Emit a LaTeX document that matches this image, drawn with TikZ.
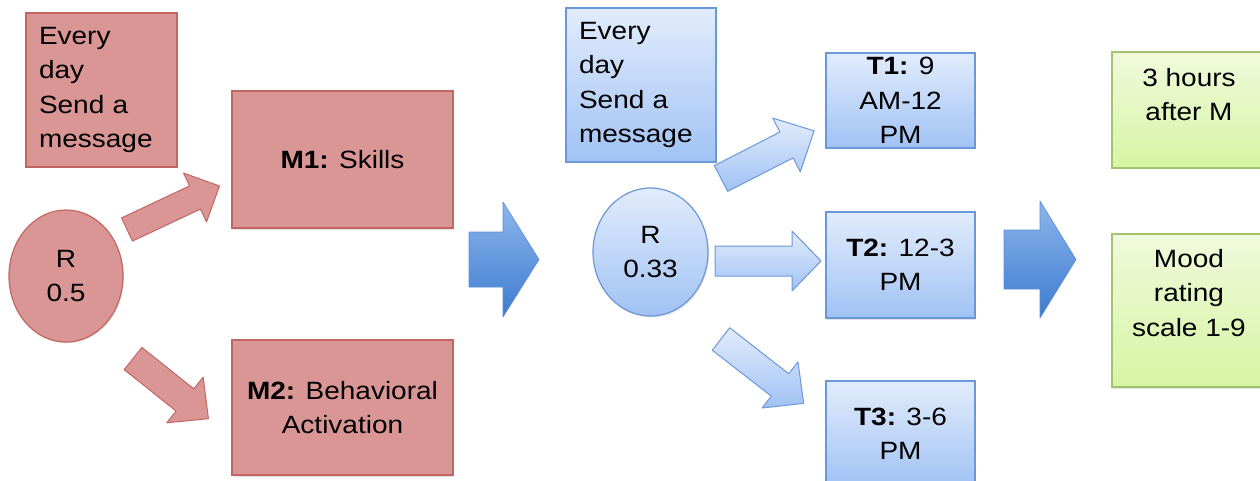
\documentclass[tikz,border=0pt]{standalone}
\usepackage{fontspec}
\setmainfont{Liberation Sans}[FakeStretch=1.12]
\usetikzlibrary{shapes.geometric,shadows}
\definecolor{redfill}{HTML}{D99694}
\definecolor{redline}{HTML}{C26664}
\definecolor{bluetop}{HTML}{E2ECFC}
\definecolor{bluebot}{HTML}{A0C2F4}
\definecolor{blueline}{HTML}{6A98D8}
\definecolor{bigtop}{HTML}{8DB5EC}
\definecolor{bigbot}{HTML}{3D7BD0}
\definecolor{bigline}{HTML}{5A8ED6}
\definecolor{greentop}{HTML}{F1F9DC}
\definecolor{greenbot}{HTML}{D6F5A3}
\definecolor{greenline}{HTML}{A3C46C}
\newcommand\blockarr[7]{%
  \begin{scope}[shift={(#2)},rotate=#3]
    \path[#1] (0,-#5) -- ({#4-#7},-#5) -- ({#4-#7},-#6) -- (#4,0)
      -- ({#4-#7},#6) -- ({#4-#7},#5) -- (0,#5) -- cycle;
  \end{scope}}
\begin{document}
\begin{tikzpicture}[x=1pt,y=-1pt,
  font=\fontsize{25}{34.5}\selectfont,
  shad/.style={drop shadow={opacity=0.22,shadow xshift=1pt,shadow yshift=-1.5pt}},
  redbox/.style={draw=redline,fill=redfill,line width=1.2pt,inner sep=0pt,shad},
  bluebox/.style={draw=blueline,top color=bluetop,bottom color=bluebot,line width=1.2pt,inner sep=0pt,shad},
  greenbox/.style={draw=greenline,top color=greentop,bottom color=greenbot,line width=1.2pt,inner sep=0pt,shad},
  redarr/.style={draw=redline,fill=redfill,line width=1pt,line join=round},
  bluearr/.style={draw=blueline,top color=bluetop,bottom color=bluebot,line width=1pt,line join=round},
  bigarr/.style={draw=bigline,top color=bigtop,bottom color=bigbot,line width=0.6pt,line join=round},
  txt/.style={inner sep=0pt,align=center}]
\useasboundingbox (0,0) rectangle (1260,481);

% left (red) group
\node[redbox,minimum width=151pt,minimum height=154pt,text width=125pt,inner xsep=13pt,align=left] (rsend) at (101.5,90) {Every\\day\\Send a\\message};
\node[redbox,minimum width=221pt,minimum height=137pt,align=center] (m1) at (342.5,159.5) {\textbf{M1:} Skills};
\node[redbox,minimum width=221pt,minimum height=135pt,align=center] (m2) at (342.5,407.5) {\textbf{M2:} Behavioral\\Activation};
\node[redbox,ellipse,minimum width=114pt,minimum height=132pt,align=center] (r1) at (66,276) {R\\0.5};

% middle (blue) group
\node[bluebox,minimum width=150pt,minimum height=154pt,text width=124pt,inner xsep=13pt,align=left] (bsend) at (641,85) {Every\\day\\Send a\\message};
\node[bluebox,ellipse,minimum width=115pt,minimum height=128pt,align=center] (r2) at (650.5,252) {R\\0.33};
\node[bluebox,minimum width=149pt,minimum height=95pt,align=center] (t1) at (900.5,100.5) {\textbf{T1:} 9\\AM-12\\PM};
\node[bluebox,minimum width=149pt,minimum height=106pt,align=center] (t2) at (900.5,265) {\textbf{T2:} 12-3\\PM};
\node[bluebox,minimum width=149pt,minimum height=106pt,align=center] (t3) at (900.5,434) {\textbf{T3:} 3-6\\PM};

% right (green) group
\node[greenbox,minimum width=154pt,minimum height=116pt] (g1) at (1189,110) {};
\node[txt,anchor=north] (g1t) at ([yshift=-16.5pt]g1.north) {3 hours\\after M};
\node[greenbox,minimum width=154pt,minimum height=153pt] (g2) at (1189,310.5) {};
\node[txt,anchor=north] (g2t) at ([yshift=-15.5pt]g2.north) {Mood\\rating\\scale 1-9};

% block arrows
\blockarr{redarr}{127,229.5}{25.2}{102.2}{12.8}{27}{27}
\blockarr{redarr}{133,358.5}{-38.6}{96.5}{14.2}{29.2}{30}
\blockarr{bluearr}{721,178.5}{27.1}{104.6}{14.5}{30.2}{31}
\blockarr{bluearr}{715,261}{0}{106}{15}{30}{29}
\blockarr{bluearr}{721,339}{-37.9}{104.8}{14.2}{29.2}{30}
\blockarr{bigarr}{469,259.5}{0}{70}{27.5}{57.5}{36}
\blockarr{bigarr}{1004,259.5}{0}{72}{29.5}{58.5}{36}
\end{tikzpicture}
\end{document}
